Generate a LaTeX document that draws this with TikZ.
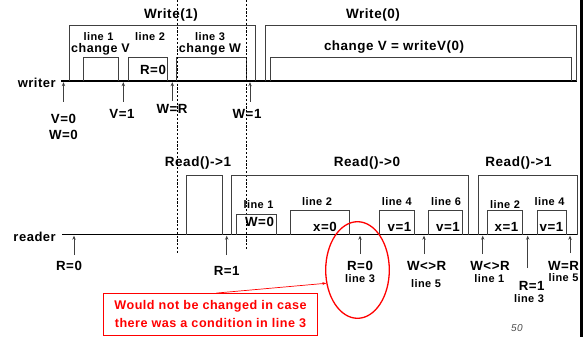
\documentclass[tikz,border=0pt]{standalone}
\usepackage{fontspec}
\setmainfont{Liberation Sans}[LetterSpace=4]
\usetikzlibrary{arrows.meta,shapes.geometric}

\begin{document}
\begin{tikzpicture}[x=1pt,y=-1pt,
  timeline/.style={line width=1.2pt, line cap=rect},
  pulse/.style={draw=black!75, line width=0.8pt},
  evt/.style={draw=black!75, line width=0.7pt, -{Stealth[length=4pt,width=3.4pt]}},
  marker/.style={line width=0.7pt, dash pattern=on 2.2pt off 1.6pt},
  title/.style={inner sep=0pt, font=\bfseries\fontsize{13.5}{15}\selectfont},
  op/.style={inner sep=0pt, font=\bfseries\fontsize{12.5}{14}\selectfont},
  val/.style={inner sep=0pt, font=\bfseries\fontsize{13.3}{15}\selectfont},
  lineno/.style={inner sep=0pt, font=\bfseries\fontsize{11}{12}\selectfont},
  proc/.style={inner sep=0pt, anchor=east, font=\bfseries\fontsize{13}{14}\selectfont},
  warn/.style={draw=red, line width=0.8pt, text=red, align=center,
    font=\bfseries\fontsize{12.6}{18.5}\selectfont, inner sep=0pt,
    minimum width=214pt, minimum height=41.5pt},
  warnarrow/.style={draw=red, line width=0.7pt, -{Stealth[length=4pt,width=3pt]}},
]
\useasboundingbox (0,0) rectangle (585,337);

% page edge on the right
\draw[line width=3pt] (581,0) -- (581,337);

% ---------------- writer ----------------
\coordinate (wstart) at (62,81);
\coordinate (wend) at (576,81);
\draw[timeline] (wstart) -- (wend);
\node[proc] (writer) at (56,82.5) {writer};

% Write(1)
\draw[pulse] (69,81) |- (255.3,25.7) -- (255.3,81);
\draw[pulse] (83.3,81) |- (118.7,57.3) -- (118.7,81);
\draw[pulse] (128,81) |- (167.3,57.3) -- (167.3,81);
\draw[pulse] (176.7,81) |- (246.7,57.3) -- (246.7,81);
\node[title] (write1) at (171,15) {Write(1)};
\node[lineno] (wl1) at (98.5,36.3) {line 1};
\node[op] (wc1) at (100.5,49.3) {change V};
\node[lineno] (wl2) at (150,36.3) {line 2};
\node[val] (wr0) at (153,69.5) {R=0};
\node[lineno] (wl3) at (210,36.3) {line 3};
\node[op] (wc3) at (210,49.3) {change W};

% Write(0)
\draw[pulse] (265.7,81) |- (576,25.7) -- (576,81);
\draw[pulse] (270.7,81) |- (571.7,57.3) -- (571.7,81);
\node[title] (write0) at (373,15) {Write(0)};
\node[op, font=\bfseries\fontsize{13.4}{15}\selectfont] (wc0) at (394,47.5) {change V = writeV(0)};

% writer events
\coordinate (e1b) at (63.5,101.5);  \coordinate (e1t) at (63.5,82.2);
\coordinate (e2b) at (123.3,101.5); \coordinate (e2t) at (123.3,82.2);
\coordinate (e3b) at (172.3,100.5); \coordinate (e3t) at (172.3,82.2);
\coordinate (e4b) at (250,101.5);   \coordinate (e4t) at (250,82.2);
\draw[evt] (e1b) -- (e1t);
\draw[evt] (e2b) -- (e2t);
\draw[evt] (e3b) -- (e3t);
\draw[evt] (e4b) -- (e4t);
\node[val] (v0) at (63.5,118.5) {V=0};
\node[val] (w0) at (63.5,135) {W=0};
\node[val] (v1) at (122,113.5) {V=1};
\node[val] (wr) at (172,108.5) {W=R};
\node[val] (w1) at (247,113.5) {W=1};

% linearization points
\draw[marker] (177.7,0) -- (177.7,253.5);
\draw[marker] (246.7,0) -- (246.7,249.5);

% ---------------- reader ----------------
\coordinate (rstart) at (63,234.5);
\coordinate (rend) at (576.7,234.5);
\draw[timeline] (rstart) -- (rend);
\node[proc] (reader) at (56,237) {reader};

% Read()->1
\draw[pulse] (186.7,234.5) |- (222,175.3) -- (222,234.5);
\node[title] (read1a) at (198,163) {Read()->1};

% Read()->0
\draw[pulse] (231.3,234.5) |- (468.3,175.3) -- (468.3,234.5);
\draw[pulse] (236.3,234.5) |- (276,214.3) -- (276,234.5);
\draw[pulse] (290.7,234.5) |- (349.3,210) -- (349.3,234.5);
\draw[pulse] (379.3,234.5) |- (414,210) -- (414,234.5);
\draw[pulse] (428.3,234.5) |- (462.7,210) -- (462.7,234.5);
\node[title] (read0) at (367,163) {Read()->0};
\node[lineno] (rl1) at (258.5,204.5) {line 1};
\node[val] (rw0) at (259.5,222) {W=0};
\node[lineno] (rl2) at (317,202) {line 2};
\node[val] (rx0) at (325,227) {x=0};
\node[lineno] (rl4) at (396.7,202) {line 4};
\node[val] (rv1) at (399.5,227) {v=1};
\node[lineno] (rl6) at (446,202) {line 6};
\node[val] (rv2) at (448,227) {v=1};

% second Read()->1
\draw[pulse] (478,234.5) |- (577.3,175.3) -- (577.3,234.5);
\draw[pulse] (487.7,234.5) |- (522.3,210) -- (522.3,234.5);
\draw[pulse] (537,234.5) |- (566.7,210) -- (566.7,234.5);
\node[title] (read1b) at (518.5,163) {Read()->1};
\node[lineno] (sl2) at (505,204.5) {line 2};
\node[val] (sx1) at (506.5,227) {x=1};
\node[lineno] (sl4) at (549.5,202) {line 4};
\node[val] (sv1) at (551.5,227) {v=1};

% reader events
\coordinate (f1b) at (74,255);    \coordinate (f1t) at (74,235.7);
\coordinate (f2b) at (226.7,255); \coordinate (f2t) at (226.7,235.7);
\coordinate (f3b) at (360,254);   \coordinate (f3t) at (360,235.7);
\coordinate (f4b) at (424,254);   \coordinate (f4t) at (424,235.7);
\coordinate (f5b) at (482.7,254); \coordinate (f5t) at (482.7,235.7);
\coordinate (f6b) at (527.7,268); \coordinate (f6t) at (527.7,235.7);
\coordinate (f7b) at (570,253);   \coordinate (f7t) at (570,235.7);
\foreach \i in {1,...,7} \draw[evt] (f\i b) -- (f\i t);
\node[val] (r0) at (69,266) {R=0};
\node[val] (r1) at (226.7,270.5) {R=1};
\node[val] (r0b) at (360,266) {R=0};
\node[lineno] (l3a) at (360,278.5) {line 3};
\node[val] (ne1) at (426.7,266) {W<>R};
\node[lineno] (l5a) at (426,283.5) {line 5};
\node[val] (ne2) at (490,266) {W<>R};
\node[lineno] (l1b) at (489.3,278.5) {line 1};
\node[val] (r1b) at (531.7,285.5) {R=1};
\node[lineno] (l3b) at (529,298.5) {line 3};
\node[val] (eqr) at (563.5,265.5) {W=R};
\node[lineno] (l5b) at (563.5,278) {line 5};

% remark on the read of R in line 3
\node[ellipse, draw=red, line width=1.3pt, inner sep=0pt,
      minimum width=63.6pt, minimum height=96.6pt] (ring) at (357.5,270) {};
\node[warn] (note) at (210.5,314.2)
  {Would not be changed in case\\there was a condition in line 3};
\draw[warnarrow] ([xshift=6pt]note.north) -- (ring.203);

% slide number
\node[inner sep=0pt, text=black!70, font=\itshape\fontsize{10}{11}\selectfont]
  (pageno) at (517,328) {50};
\end{tikzpicture}
\end{document}
